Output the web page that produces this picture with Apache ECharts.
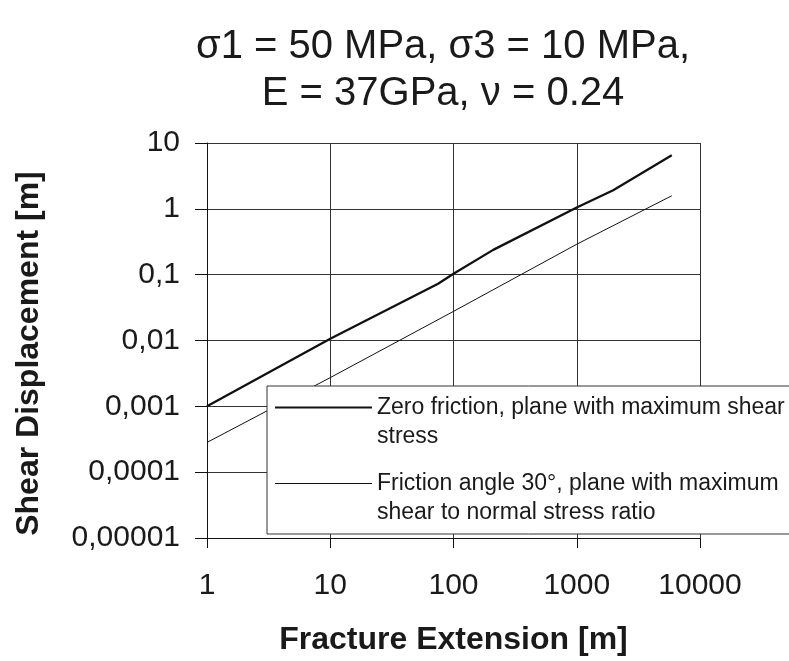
<!DOCTYPE html>
<html>
<head>
<meta charset="utf-8">
<script src="https://cdn.jsdelivr.net/npm/echarts@6/dist/echarts.min.js"></script>
<style>
  html, body { margin: 0; padding: 0; background: #fff; }
  #chart { width: 789px; height: 661px; }
</style>
</head>
<body>
<div id="chart"></div>
<script>
// Titles and axis texts
const titleLines = ['\u03c31 = 50 MPa, \u03c33 = 10 MPa,', 'E = 37GPa, \u03bd = 0.24'];
const xAxisTitle = 'Fracture Extension [m]';
const yAxisTitle = 'Shear Displacement [m]';

// Tick labels, one per decade
const xTickLabels = ['1', '10', '100', '1000', '10000'];
const yTickLabels = ['0,00001', '0,0001', '0,001', '0,01', '0,1', '1', '10'];

// Series: shear displacement [m] against fracture extension [m]
const zeroFrictionName = 'Zero friction, plane with maximum shear\nstress';
const zeroFrictionX = [1, 10, 75, 100, 210, 1000, 1975, 5900];
const zeroFrictionY = [0.001, 0.0106, 0.0728, 0.103, 0.238, 1.05, 1.92, 6.5];

const frictionName = 'Friction angle 30\u00b0, plane with maximum\nshear to normal stress ratio';
const frictionX = [1, 10, 100, 1000, 5900];
const frictionY = [0.000283, 0.00273, 0.0277, 0.29, 1.58];

const FONT = '"Liberation Sans", Arial, Helvetica, sans-serif';
const INK = '#1a1a1a';

function pairs(xs, ys) {
  return xs.map((x, i) => [x, ys[i]]);
}
function decadeLabel(labels, minExp) {
  return (v) => {
    const k = Math.round(Math.log10(v)) - minExp;
    return labels[k] !== undefined ? labels[k] : '';
  };
}

const chart = echarts.init(document.getElementById('chart'), null, { renderer: 'canvas' });

chart.setOption({
  animation: false,
  backgroundColor: '#fff',
  title: {
    text: titleLines.join('\n'),
    left: 443,
    top: 23,
    padding: 0,
    textAlign: 'center',
    textStyle: {
      fontFamily: FONT,
      fontSize: 40,
      fontWeight: 'normal',
      lineHeight: 47,
      color: INK
    }
  },
  grid: {
    left: 207,
    top: 143,
    width: 493,
    height: 396,
    containLabel: false
  },
  legend: {
    orient: 'vertical',
    left: 267,
    top: 386,
    padding: [7, 60, 7, 8],
    itemGap: 18,
    itemWidth: 97,
    itemHeight: 58,
    symbolKeepAspect: false,
    selectedMode: false,
    backgroundColor: '#fff',
    borderColor: '#333',
    borderWidth: 1,
    borderRadius: 0,
    itemStyle: { borderWidth: 0 },
    textStyle: {
      fontFamily: FONT,
      fontSize: 23,
      lineHeight: 29,
      color: INK
    },
    data: [
      { name: zeroFrictionName, icon: 'path://M0,0h0M0,13.4h97v2.2h-97zM0,58h0' },
      { name: frictionName, icon: 'path://M0,0h0M0,14h97v1h-97zM0,58h0' }
    ]
  },
  xAxis: {
    type: 'log',
    logBase: 10,
    min: 1,
    max: 10000,
    interval: 1,
    name: xAxisTitle,
    nameLocation: 'middle',
    nameGap: 86,
    nameTextStyle: { fontFamily: FONT, fontSize: 32, fontWeight: 'bold', color: INK },
    axisLine: { onZero: false, lineStyle: { color: '#111', width: 1 } },
    axisTick: { show: true, inside: false, length: 10, lineStyle: { color: '#111', width: 1 } },
    minorTick: { show: false },
    axisLabel: {
      fontFamily: FONT, fontSize: 30, color: INK, margin: 33,
      formatter: decadeLabel(xTickLabels, 0)
    },
    splitLine: { show: true, lineStyle: { color: '#333', width: 1 } }
  },
  yAxis: {
    type: 'log',
    logBase: 10,
    min: 0.00001,
    max: 10,
    interval: 1,
    name: yAxisTitle,
    nameLocation: 'middle',
    nameGap: 162,
    nameTextStyle: { fontFamily: FONT, fontSize: 32, fontWeight: 'bold', color: INK, padding: [0, 26, 0, 0] },
    axisLine: { onZero: false, lineStyle: { color: '#111', width: 1 } },
    axisTick: { show: true, inside: false, length: 12, lineStyle: { color: '#111', width: 1 } },
    minorTick: { show: false },
    axisLabel: {
      fontFamily: FONT, fontSize: 30, color: INK, margin: 27,
      formatter: decadeLabel(yTickLabels, -5)
    },
    splitLine: { show: true, lineStyle: { color: '#333', width: 1 } }
  },
  series: [
    {
      name: zeroFrictionName,
      type: 'line',
      data: pairs(zeroFrictionX, zeroFrictionY),
      symbol: 'none',
      color: '#111',
      lineStyle: { color: '#111', width: 2.3 },
      silent: true
    },
    {
      name: frictionName,
      type: 'line',
      data: pairs(frictionX, frictionY),
      symbol: 'none',
      color: '#111',
      lineStyle: { color: '#111', width: 1 },
      silent: true
    }
  ]
});
</script>
</body>
</html>
